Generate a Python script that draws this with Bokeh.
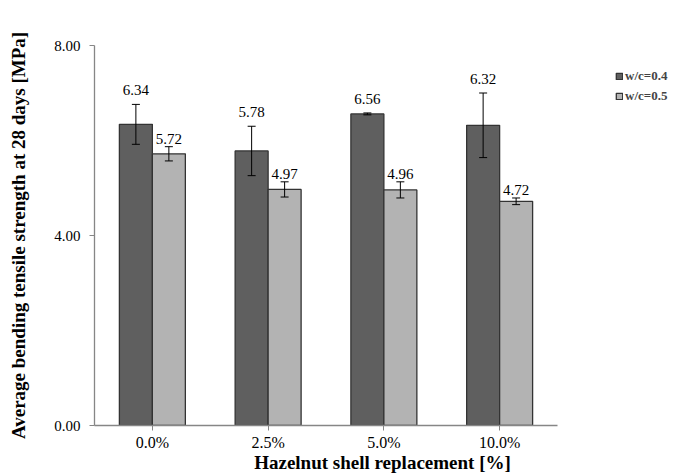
import numpy as np
from bokeh.plotting import figure
from bokeh.models import (ColumnDataSource, FixedTicker, PrintfTickFormatter, Whisker,
                          TeeHead, LabelSet, Legend, LegendItem, Range1d)
from bokeh.embed import file_html
from bokeh.resources import INLINE

categories = ["0.0%", "2.5%", "5.0%", "10.0%"]
series_names = ["w/c=0.4", "w/c=0.5"]
values_04 = [6.34, 5.78, 6.56, 6.32]
errors_04 = [0.42, 0.52, 0.02, 0.68]
values_05 = [5.72, 4.97, 4.96, 4.72]
errors_05 = [0.15, 0.16, 0.17, 0.07]
y_ticks = [0, 4, 8]

FONT = "Liberation Serif"
AXIS_COLOR = "#868686"
DARK = "#5f5f5f"
LIGHT = "#b3b3b3"
OUTLINE = "#333333"
BAR_W = 0.285

W, H = 676, 475
LEFT, RIGHT, TOP, BOTTOM = 94, 6, 45, 50
AXIS_PX = 463  # pixel length of the category axis
n = len(categories)
frame_w = W - LEFT - RIGHT
x_end = n * frame_w / AXIS_PX

centers = np.arange(n) + 0.5

p = figure(width=W, height=H, output_backend="svg", toolbar_location=None,
           x_range=Range1d(0, x_end), y_range=Range1d(0, 8),
           min_border_left=LEFT, min_border_right=RIGHT, min_border_top=TOP,
           min_border_bottom=BOTTOM)
p.outline_line_color = None
p.xgrid.grid_line_color = None
p.ygrid.grid_line_color = None
p.background_fill_color = "white"
p.border_fill_color = "white"

def add_series(vals, errs, color, offset, label_off):
    src = ColumnDataSource(dict(
        x=centers + offset,
        top=vals,
        upper=[v + e for v, e in zip(vals, errs)],
        lower=[v - e for v, e in zip(vals, errs)],
        text=["%.2f" % v for v in vals],
    ))
    r = p.vbar(x="x", top="top", bottom=0, width=BAR_W, source=src,
               fill_color=color, line_color=OUTLINE, line_width=1.3)
    w = Whisker(base="x", upper="upper", lower="lower", source=src, level="annotation",
                line_color="black", line_width=1,
                upper_head=TeeHead(size=8, line_color="black", line_width=1),
                lower_head=TeeHead(size=8, line_color="black", line_width=1))
    p.add_layout(w)
    lab = LabelSet(x="x", y="upper", text="text", source=src, y_offset=label_off,
                   text_align="center", text_baseline="bottom",
                   text_font=FONT, text_font_size="15px", text_color="black")
    p.add_layout(lab)
    return r

r1 = add_series(values_04, errors_04, DARK, -BAR_W / 2, 9)
r2 = add_series(values_05, errors_05, LIGHT, BAR_W / 2, 3)

# axes
p.xaxis.bounds = (0, n)
p.xaxis.ticker = FixedTicker(ticks=list(centers))
p.xaxis.major_label_overrides = {c: cat for c, cat in zip(list(centers), categories)}
p.yaxis.ticker = FixedTicker(ticks=y_ticks)
p.yaxis.formatter = PrintfTickFormatter(format="%.2f")
for ax in (p.xaxis, p.yaxis):
    ax.axis_line_color = AXIS_COLOR
    ax.axis_line_width = 1.3
    ax.major_tick_line_color = AXIS_COLOR
    ax.major_tick_out = 5
    ax.major_tick_in = 0
    ax.minor_tick_line_color = None
    ax.major_label_text_font = FONT
    ax.major_label_text_font_size = "15px"
    ax.major_label_text_color = "black"
    ax.axis_label_text_font = FONT
    ax.axis_label_text_font_style = "bold"
    ax.axis_label_text_font_size = "19px"
    ax.axis_label_text_color = "black"
p.xaxis.major_label_text_font_size = "16px"
p.xaxis.axis_label = "Hazelnut shell replacement [%]"
p.yaxis.axis_label = "Average bending tensile strength at 28 days [MPa]"
p.xaxis.major_label_standoff = 3
p.xaxis.axis_label_standoff = -2
p.yaxis.major_label_standoff = 9
p.yaxis.axis_label_standoff = 22

legend = Legend(items=[LegendItem(label=series_names[0], renderers=[r1]),
                       LegendItem(label=series_names[1], renderers=[r2])],
                location=(521, 321), padding=0, margin=0, spacing=4,
                glyph_width=8, glyph_height=8, label_height=14, label_standoff=2,
                label_text_font=FONT, label_text_font_style="bold",
                label_text_font_size="13px", border_line_color=None,
                background_fill_alpha=0)
p.add_layout(legend, "center")

open("out.html", "w").write(file_html(p, INLINE))
